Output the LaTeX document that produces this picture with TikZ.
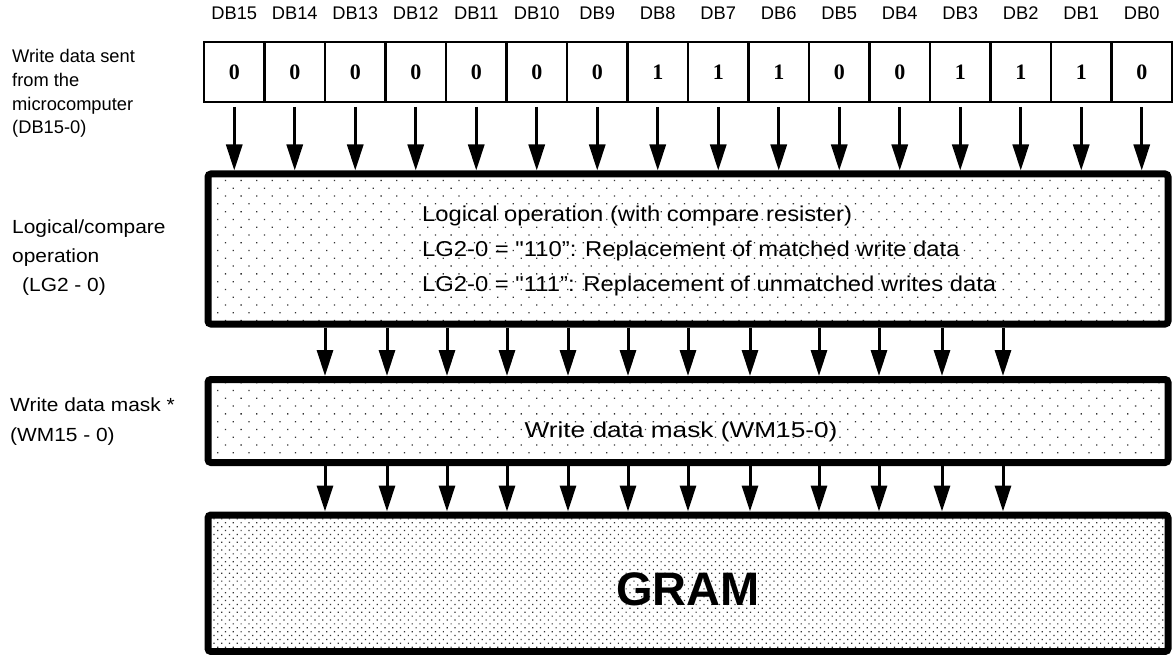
\documentclass[tikz,border=0pt]{standalone}
\usepackage{fontspec}
\setmainfont{Liberation Sans}
\newfontfamily\bitfont{Liberation Serif}
\newfontfamily\sidefont[FakeStretch=1.1]{Liberation Sans}
\newfontfamily\logfont[FakeStretch=1.107]{Liberation Sans}
\newfontfamily\maskfont[FakeStretch=1.22]{Liberation Sans}
\usetikzlibrary{positioning,arrows.meta,patterns.meta}
\tikzset{
  cell/.style={rectangle, draw, line width=2.5pt, minimum width=60.5pt, minimum height=60pt,
               inner sep=0pt, outer sep=0pt, font=\bitfont\bfseries\fontsize{22}{24}\selectfont},
  dbl/.style={inner sep=0pt, font=\fontsize{18.3}{22}\selectfont},
  side/.style={align=left, inner sep=0pt, anchor=base west},
  block/.style={rectangle, draw, line width=7pt, rounded corners=3pt, minimum width=960pt, inner sep=0pt},
  sparse/.style={pattern={Dots[distance=11pt, angle=45, radius=0.9pt]}, pattern color=black!80},
  dense/.style={pattern={Dots[distance=5.5pt, angle=45, radius=0.85pt]}, pattern color=black!80},
  flow/.style={-{Triangle[length=26pt, width=16pt]}, line width=3pt}
}
\begin{document}
\begin{tikzpicture}[x=1pt, y=-1pt]
\useasboundingbox (0,0) rectangle (1173,655);
% write data register DB15 ... DB0
\foreach \b [count=\k from 0] in {0,0,0,0,0,0,0,1,1,1,0,0,1,1,1,0}{
  \pgfmathtruncatemacro{\i}{15-\k}
  \node[cell] (c\i) at ({234.25+60.5*\k}, 72) {\b};
  \node[dbl, above=22pt of c\i] (db\i) {DB\i};
}
% blocks
\node[block, sparse, minimum height=150pt] (logic) at (688,249) {};
\node[align=left, anchor=west, inner sep=0pt, font=\logfont\fontsize{21.5}{35}\selectfont] (logtxt) at (422,251)
  {Logical operation (with compare resister)\\LG2-0 = "110”: Replacement of matched write data\\LG2-0 = "111”: Replacement of unmatched writes data};
\node[block, sparse, minimum height=83pt] (mask) at (688,421) {};
\node[anchor=base, inner sep=0pt, font=\maskfont\fontsize{21.5}{26}\selectfont] (masktxt) at (681,437) {Write data mask (WM15-0)};
\node[block, dense, minimum height=136.5pt] (gram) at (688,583.25) {};
\node[anchor=base, inner sep=0pt, font=\bfseries\fontsize{47}{56}\selectfont] (gramtxt) at (688,605) {GRAM};
% side labels (base = last line)
\node[side, font=\fontsize{18.3}{23.7}\selectfont] (lwrite) at (12,134) {Write data sent\\from the\\microcomputer\\(DB15-0)};
\node[side, font=\sidefont\fontsize{19}{29}\selectfont] (lop) at (12,291) {Logical/compare\\operation\\\hspace*{10pt}(LG2 - 0)};
\node[side, font=\sidefont\fontsize{19}{30}\selectfont] (lmask) at (10,441) {Write data mask *\\(WM15 - 0)};
% arrows
\foreach \i in {0,...,15}
  \draw[flow, shorten <=5pt] (c\i.south) -- (c\i.south |- logic.north);
\foreach \x [count=\k] in {325,387,447,507,568,628,688,750,819,879,942,1003}{
  \coordinate (m\k) at (\x,0);
  \draw[flow] (m\k |- logic.south) -- (m\k |- mask.north);
  \draw[flow] (m\k |- mask.south) -- (m\k |- gram.north);
}
\end{tikzpicture}
\end{document}
